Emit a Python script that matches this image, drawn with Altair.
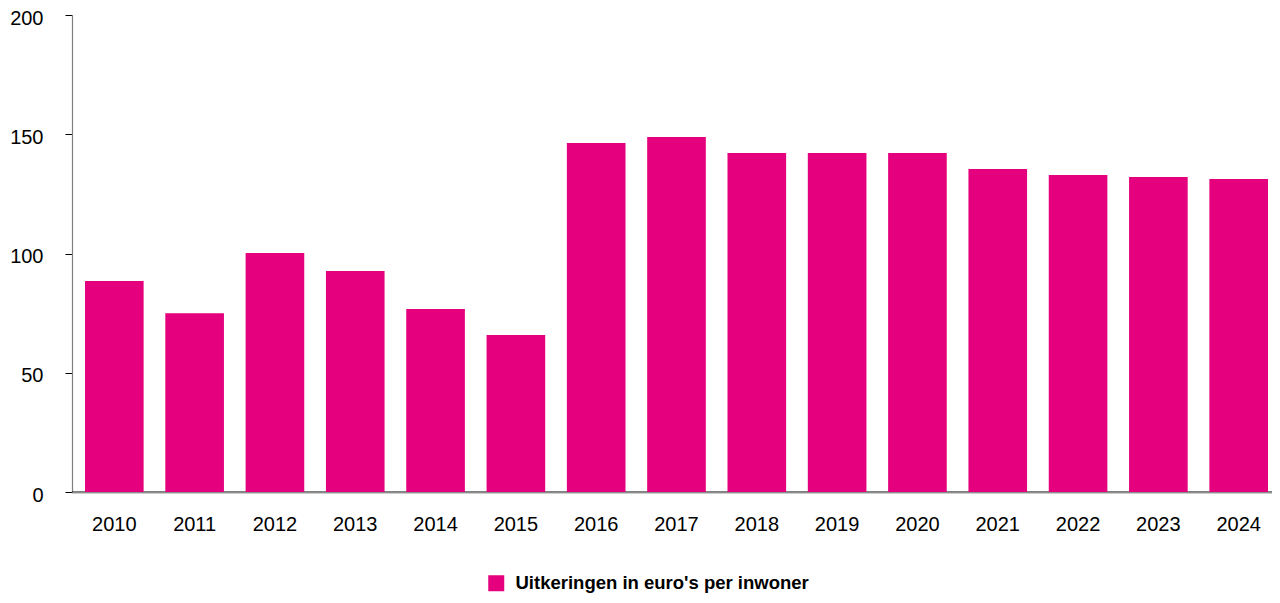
import altair as alt
import pandas as pd

years = [str(y) for y in range(2010, 2025)]
values = [88.5, 75.0, 100.2, 92.7, 76.7, 65.8, 146.3, 148.8, 142.1, 142.1, 142.1, 135.4, 132.9, 132.1, 131.2]
series = ["Uitkeringen in euro's per inwoner"] * len(years)
y_ticks = [0, 50, 100, 150, 200]

df = pd.DataFrame({"jaar": years, "waarde": values, "reeks": series})
zero = pd.DataFrame({"y": [0]})

FONT = "Liberation Sans"
PINK = "#E5007D"
W, H = 1200, 477

x_enc = alt.X("jaar:N", title=None, sort=years,
              scale=alt.Scale(range=[13, 1196], paddingInner=0.27, paddingOuter=0),
              axis=alt.Axis(labelAngle=0, labelFontSize=20, labelFont=FONT, labelColor="#000000",
                            ticks=False, domain=False, labelPadding=22))

bars = alt.Chart(df).mark_bar(color=PINK).encode(
    x=x_enc,
    y=alt.Y("waarde:Q", title=None,
            scale=alt.Scale(domain=[0, 200], nice=False),
            axis=alt.Axis(values=y_ticks, labelFontSize=20, labelFont=FONT, labelColor="#000000",
                          tickColor="#000000", tickSize=7, tickWidth=1, labelOffset=3,
                          domainColor="#808080", domainWidth=1.2, labelPadding=22, grid=False)),
    color=alt.Color("reeks:N", title=None,
                    scale=alt.Scale(range=[PINK]),
                    legend=alt.Legend(orient="none", legendX=415, legendY=559, symbolType="square",
                                      symbolSize=256, symbolStrokeWidth=0, labelFontSize=18.5,
                                      labelFontWeight="bold", labelFont=FONT, labelColor="#000000",
                                      labelOffset=10, padding=0, labelLimit=600)),
)

baseline = alt.Chart(zero).mark_rule(color="#000000", strokeWidth=1).encode(
    y=alt.Y("y:Q"), x=alt.value(0), x2=alt.value(W),
)
xdomain = alt.Chart(zero).mark_rule(color="#9a9a9a", strokeWidth=1).encode(
    y=alt.value(H + 1), x=alt.value(0), x2=alt.value(W),
)

chart = alt.layer(baseline, bars, xdomain).properties(
    width=W, height=H,
    autosize=alt.AutoSizeParams(type="none"),
    padding={"left": 64, "top": 7, "right": 0, "bottom": 103},
).configure_view(stroke=None)

chart.save("out.html", embed_options={"renderer": "svg", "actions": False})
